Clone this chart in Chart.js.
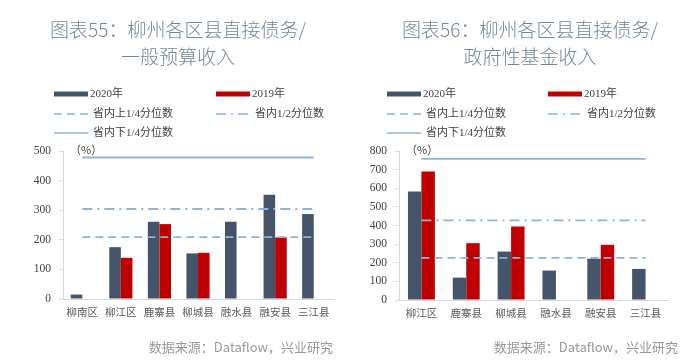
<!DOCTYPE html>
<html>
<head>
<meta charset="utf-8">
<script src="https://cdn.jsdelivr.net/npm/chart.js@4.4.0/dist/chart.umd.min.js"></script>
<style>
  body { margin: 0; background: #fff; }
  #wrap { position: relative; width: 700px; height: 363px; }
  .box { position: absolute; top: 0; width: 350px; height: 363px; }
</style>
</head>
<body>
<div id="wrap">
  <div class="box" style="left:0"><canvas id="c55" width="350" height="363"></canvas></div>
  <div class="box" style="left:350px"><canvas id="c56" width="350" height="363"></canvas></div>
</div>
<script>
// 图表55 data
const cats55 = ['柳南区', '柳江区', '鹿寨县', '柳城县', '融水县', '融安县', '三江县']
const y2020_55 = [15, 175, 261, 154, 261, 352, 287]
const y2019_55 = [null, 139, 253, 156, null, 208, null]
const upperQ55 = 209   // 省内上1/4分位数
const median55 = 304   // 省内1/2分位数
const lowerQ55 = 478   // 省内下1/4分位数
const yTicks55 = { min: 0, max: 500, step: 100 }

// 图表56 data
const cats56 = ['柳江区', '鹿寨县', '柳城县', '融水县', '融安县', '三江县']
const y2020_56 = [582, 120, 260, 158, 222, 167]
const y2019_56 = [690, 305, 394, null, 296, null]
const upperQ56 = 226
const median56 = 428
const lowerQ56 = 758
const yTicks56 = { min: 0, max: 800, step: 100 }

const seriesNames = ['2020年', '2019年', '省内上1/4分位数', '省内1/2分位数', '省内下1/4分位数']

const NAVY = '#44546a'
const RED = '#c00000'
const LBLUE = '#8fb4d6'
const serif = "'Liberation Serif', 'Noto Sans CJK SC'"
const sans = "'Noto Sans CJK SC', 'Noto Sans'"

// titles, legend, unit and source drawn on the canvas
const decorPlugin = {
    id: 'decor',
    afterDraw(chart, args, o) {
        const ctx = chart.ctx
        const area = chart.chartArea
        ctx.save()
        // title
        ctx.fillStyle = '#72869a'
        ctx.font = '300 19px ' + sans
        ctx.textAlign = 'center'
        ctx.textBaseline = 'middle'
        ctx.fillText(o.title[0], o.titleX, 30)
        ctx.fillText(o.title[1], o.titleX, 57)

        // legend (2 columns)
        const rows = [94, 114, 133]
        chart.data.datasets.forEach(function (ds, i) {
            const x = o.legendX[i % 2]
            const y = rows[Math.floor(i / 2)]
            if (ds.type === 'line') {
                ctx.strokeStyle = ds.borderColor
                ctx.lineWidth = 1.5
                ctx.setLineDash(ds.borderDash || [])
                ctx.beginPath()
                ctx.moveTo(x, y)
                ctx.lineTo(x + 34, y)
                ctx.stroke()
                ctx.setLineDash([])
            } else {
                ctx.fillStyle = ds.backgroundColor
                ctx.fillRect(x, y - 2.5, 34, 5)
            }
            ctx.fillStyle = '#404040'
            ctx.font = '11px ' + serif
            ctx.textAlign = 'left'
            ctx.fillText(ds.label, x + (ds.type === 'line' ? 39 : 36), y)
        });

        // unit
        ctx.fillStyle = '#404040'
        ctx.font = '11px ' + sans
        ctx.textAlign = 'left'
        ctx.fillText('（%）', area.left + 7, 150)

        // source
        ctx.fillStyle = '#999999'
        ctx.font = '13px ' + sans
        ctx.textAlign = 'right'
        ctx.fillText('数据来源：Dataflow，兴业研究', o.sourceX, 347)
        ctx.restore()
    }
}

function refLine(label, value, cats, dash) {
    return {
        type: 'line',
        label: label,
        data: cats.map(function () { return value }),
        borderColor: LBLUE,
        borderWidth: 1.8,
        borderDash: dash,
        pointRadius: 0,
        fill: false,
        order: 1
    }
}

function makeChart(id, cats, a, b, upper, median, lower, yt, opts) {
    const ctx = document.getElementById(id)
    return new Chart(ctx, {
        type: 'bar',
        data: {
            labels: cats,
            datasets: [
                { label: seriesNames[0], data: a, backgroundColor: NAVY, order: 2,
                  categoryPercentage: 0.6, barPercentage: 1.0 },
                { label: seriesNames[1], data: b, backgroundColor: RED, order: 2,
                  categoryPercentage: 0.6, barPercentage: 1.0 },
                refLine(seriesNames[2], upper, cats, [8, 5]),
                refLine(seriesNames[3], median, cats, [10, 5, 2, 5]),
                refLine(seriesNames[4], lower, cats, [])
            ]
        },
        options: {
            responsive: false,
            animation: false,
            layout: { padding: opts.padding },
            plugins: {
                legend: { display: false },
                tooltip: { enabled: false },
                decor: opts.decor
            },
            scales: {
                x: {
                    grid: { display: false, drawTicks: false },
                    border: { color: '#d9d9d9' },
                    ticks: { color: '#595959', font: { family: sans, size: 10.5 }, padding: 7 },
                    afterFit: function (s) { s.height = 26 }
                },
                y: {
                    min: yt.min,
                    max: yt.max,
                    ticks: { stepSize: yt.step, color: '#404040', font: { family: serif, size: 11.5 }, padding: 8 },
                    grid: { drawOnChartArea: false, tickLength: 4, color: '#d9d9d9' },
                    border: { color: '#d9d9d9' },
                    afterFit: function (s) { s.width = opts.yWidth }
                }
            }
        },
        plugins: [decorPlugin]
    })
}

makeChart('c55', cats55, y2020_55, y2019_55, upperQ55, median55, lowerQ55, yTicks55, {
    padding: { top: 151, right: 17, bottom: 38, left: 0 },
    yWidth: 63,
    decor: {
        title: ['图表55：柳州各区县直接债务/', '一般预算收入'],
        titleX: 178,
        legendX: [54, 216],
        sourceX: 333
    }
})

makeChart('c56', cats56, y2020_56, y2019_56, upperQ56, median56, lowerQ56, yTicks56, {
    padding: { top: 151, right: 32, bottom: 37, left: 0 },
    yWidth: 49,
    decor: {
        title: ['图表56：柳州各区县直接债务/', '政府性基金收入'],
        titleX: 180,
        legendX: [37, 198],
        sourceX: 328
    }
})
</script>
</body>
</html>
